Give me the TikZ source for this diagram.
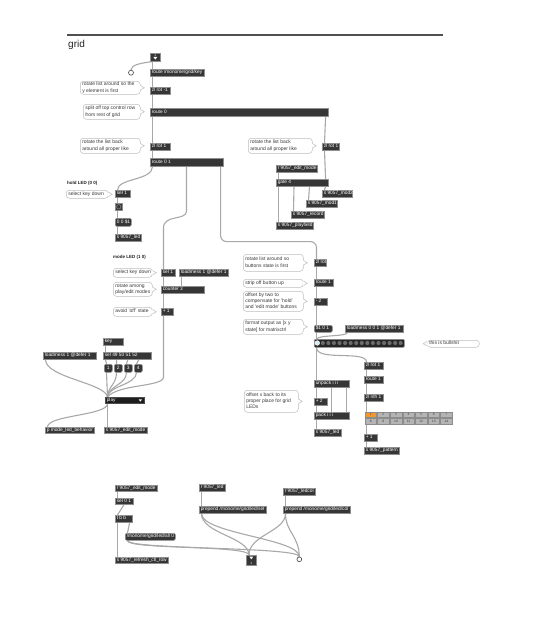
\documentclass[tikz,border=0pt]{standalone}
\usepackage{fontspec}
\setmainfont{Liberation Sans}
\usetikzlibrary{calc}
\pgfdeclarelayer{bg}
\pgfsetlayers{bg,main}
\definecolor{objfill}{HTML}{363636}
\definecolor{objdraw}{HTML}{8E8E8E}
\definecolor{cordc}{HTML}{A8A8A8}
\definecolor{cmtdraw}{HTML}{BDBDBD}
\definecolor{cmttext}{HTML}{3A3A3A}
\definecolor{titlec}{HTML}{222222}
\definecolor{rulec}{HTML}{505050}
\definecolor{tabc}{HTML}{B4B4B4}
\definecolor{tabline}{HTML}{8C8C8C}
\definecolor{tabon}{HTML}{F2962F}
\definecolor{ledoff}{HTML}{6C6C6C}
\definecolor{ledon}{HTML}{D4ECF4}
\definecolor{menuc}{HTML}{1E1E1E}
\tikzset{
  obj/.style={draw=objdraw, fill=objfill, text=white, line width=0.6pt, font=\fontsize{4.8}{5}\selectfont, inner xsep=1.5pt, inner ysep=0pt, anchor=north west},
  msg/.style={obj, rounded corners=1.3pt},
  menu/.style={obj, fill=menuc, draw=black!70},
  cmt/.style={draw=cmtdraw, fill=white, text=cmttext, line width=0.5pt, rounded corners=3pt, font=\fontsize{5}{6.2}\selectfont, inner xsep=2pt, inner ysep=0pt, anchor=north west},
  cmtline/.style={draw=cmtdraw, line width=0.5pt},
  cord/.style={draw=cordc, line width=1.1pt},
  hdr/.style={font=\bfseries\fontsize{4.5}{5}\selectfont, text=titlec, anchor=west, inner sep=0pt},
  port/.style={draw=black!75, fill=white, line width=0.6pt, circle, inner sep=0pt},
  tiny/.style={font=\fontsize{3.2}{3.2}\selectfont, text=white, inner sep=0pt},
}
% object box: [style]{name}{x1}{y1}{x2}{y2}{text}
\newcommand\mx[7][obj]{%
  \pgfmathsetmacro\mxw{#5-#3}\pgfmathsetmacro\mxh{#6-#4}\pgfmathsetmacro\mxtw{#5-#3-3}%
  \node[#1, minimum width=\mxw pt, minimum height=\mxh pt] (#2) at (#3,#4) {\makebox[\mxtw pt][l]{\strut #7}};}
\newcommand\mxc[7][msg]{%
  \pgfmathsetmacro\mxw{#5-#3}\pgfmathsetmacro\mxh{#6-#4}\pgfmathsetmacro\mxtw{#5-#3-3}%
  \node[#1, minimum width=\mxw pt, minimum height=\mxh pt] (#2) at (#3,#4) {\makebox[\mxtw pt][c]{\strut #7}};}
% comment bubble: [side]{name}{x1}{y1}{x2}{y2}{text}
\newcommand\cm[7][r]{%
  \pgfmathsetmacro\mxw{#5-#3}\pgfmathsetmacro\mxh{#6-#4}\pgfmathsetmacro\mxtw{#5-#3-4}%
  \node[cmt, minimum width=\mxw pt, minimum height=\mxh pt] (#2) at (#3,#4) {\makebox[\mxtw pt][l]{\begin{tabular}{@{}l@{}}#7\end{tabular}}};%
  \ifx r#1%
    \fill[white] ([xshift=-0.6pt,yshift=2.2pt]#2.east) -- ([xshift=3.8pt]#2.east) -- ([xshift=-0.6pt,yshift=-2.2pt]#2.east) -- cycle;
    \draw[cmtline] ([yshift=2.2pt]#2.east) -- ([xshift=3.8pt]#2.east) -- ([yshift=-2.2pt]#2.east);
  \else
    \fill[white] ([xshift=0.6pt,yshift=2.2pt]#2.west) -- ([xshift=-3.8pt]#2.west) -- ([xshift=0.6pt,yshift=-2.2pt]#2.west) -- cycle;
    \draw[cmtline] ([yshift=2.2pt]#2.west) -- ([xshift=-3.8pt]#2.west) -- ([yshift=-2.2pt]#2.west);
  \fi}
\begin{document}
\begin{tikzpicture}[x=1pt,y=-1pt]
\useasboundingbox (0,0) rectangle (540,625);
\draw[rulec, line width=1.5pt] (67,35) -- (443,35);
\node[font=\fontsize{10}{12}\selectfont, text=titlec, anchor=base west, inner sep=0pt] (title) at (68,47.5) {grid};

% ---------- top chain
\mx{inl}{150}{53}{160}{61}{}
\node[tiny] (inlnum) at ([yshift=-2pt]inl.north) {1};
\fill[white] ([xshift=-2pt,yshift=-3.8pt]inl.north) -- ([xshift=2pt,yshift=-3.8pt]inl.north) -- ([yshift=-6.6pt]inl.north) -- cycle;
\node[port, minimum size=5pt] (c1) at (131,72.7) {};
\mx{rk}{150}{69}{204}{76}{route /monome/grid/key}
\mx{zra}{150}{87}{170}{94}{zl rot -1}
\mx{rz}{150}{108}{328}{116}{route 0}
\mx{zrb}{150}{143}{170}{150}{zl rot 1}
\mx{rzo}{150}{158}{223}{166}{route 0 1}
\cm{cmA}{80}{81}{140}{94}{rotate list around so the\\y element is first}
\cm{cmB}{83}{104}{140}{119}{split off top control row\\from rest of grid}
\cm{cmC}{80}{138}{140}{153}{rotate the list back\\around all proper like}
\cm{cmD}{248}{138}{312}{153}{rotate the list back\\around all proper like}
\mx{zrc}{322}{143}{339}{150}{zl rot 1}
\mx{redit}{276}{165}{317}{172}{r 9057\_edit\_mode}
\mx{gate}{276}{179}{328}{186}{gate 4}
\mx{smod2}{322}{190}{352}{197}{s 9057\_mod2}
\mx{smod1}{306}{200}{337}{207}{s 9057\_mod1}
\mx{srec}{291}{211}{324}{218}{s 9057\_record}
\mx{spf}{276}{222}{313}{229}{s 9057\_playfield}

% ---------- hold LED
\node[hdr] (hhold) at (67,183) {hold LED (0 0)};
\cm{cmE}{66}{190}{108}{198}{select key down}
\mx{hsel}{115}{190}{130}{197}{sel 1}
\mx{bang}{115}{203}{122}{210}{}
\draw[objdraw, line width=0.5pt] (bang.center) circle (2.2);
\mx[msg]{m00}{115}{218}{131}{226}{0 0 \$1}
\mx{sled}{115}{234}{141}{241}{s 9057\_led}

% ---------- mode LED
\node[hdr] (hmode) at (113,257) {mode LED (1 0)};
\cm{cmF}{113}{268}{152}{277}{select key down}
\mx{msel}{161}{269}{175}{276}{sel 1}
\mx{lm1}{179}{269}{228}{276}{loadmess 1 @defer 1}
\cm{cmG}{113}{282}{152}{296}{rotate among\\play/edit modes}
\mx{cnt}{161}{286}{204}{293}{counter 3}
\cm{cmH}{113}{307}{152}{316}{avoid 'off' state}
\mx{pone}{161}{308}{173}{315}{+ 1}
\mx{key}{103}{338}{123}{345}{key}
\mx{s49}{103}{352}{151}{359}{sel 49 50 51 52}
\mx{lmL}{43}{352}{96}{359}{loadmess 1 @defer 1}
\mxc{mA}{104}{364}{112}{372}{1}
\mxc{mB}{114}{364}{122}{372}{2}
\mxc{mC}{124}{364}{132}{372}{3}
\mxc{mD}{134}{364}{142}{372}{4}
\mx[menu]{um}{105}{397}{144}{403}{play}
\fill[white] ([xshift=-6pt,yshift=1pt]um.east) -- ([xshift=-2.5pt,yshift=1pt]um.east) -- ([xshift=-4.25pt,yshift=-1.2pt]um.east) -- cycle;
\mx{pmode}{45}{427}{94}{433}{p mode\_led\_behavior}
\mx{sem}{104}{427}{147}{433}{s 9057\_edit\_mode}

% ---------- right column
\cm{cmI}{243}{254}{303}{271}{rotate list around so\\buttons state is first}
\mx{zrm}{314}{259}{326}{266}{zl rot -1}
\cm{cmJ}{243}{279}{303}{287}{strip off button up}
\mx{rt1}{314}{279}{333}{286}{route 1}
\cm{cmK}{243}{291}{303}{311}{offset by two to\\compensate for 'hold'\\and 'edit mode' buttons}
\mx{mtwo}{314}{298}{327}{305}{- 2}
\cm{cmL}{243}{319}{303}{334}{format output as [x y\\state] for matrixctrl}
\mx[msg]{s101}{314}{325}{332}{332}{\$1 0 1}
\mx{lm001}{345}{325}{403}{332}{loadmess 0 0 1 @defer 1}
\node[obj, rounded corners=1pt, fill=black!85, minimum width=90pt, minimum height=8pt] (mx) at (314,339) {};
\foreach \i in {1,...,15} \fill[ledoff] (317.3+\i*5.56,343) circle (2.05);
\filldraw[fill=ledon, draw=white, line width=0.3pt] (317.3,343) circle (2.4);
\cm[l]{cmM}{427}{340}{479}{347}{this is bullshit}
\mx{zr4}{364}{362}{383}{369}{zl rot 1}
\mx{rt2}{364}{376}{383}{383}{route 1}
\mx{unp}{314}{380}{349}{387}{unpack i i i}
\cm{cmN}{244}{390}{298}{412}{offset x back to its\\proper place for grid\\LEDs}
\mx{ptwo}{314}{398}{327}{405}{+ 2}
\mx{znth}{364}{394}{383}{401}{zl nth 1}
\node[inner sep=0pt, minimum width=89pt, minimum height=12pt, anchor=north west] (tab) at (364,412) {};
\foreach \r in {0,1}{\foreach \i in {0,...,6}{%
  \pgfmathtruncatemacro\lab{\i+1+7*\r}%
  \pgfmathsetmacro\cx{365+\i*12.6}\pgfmathsetmacro\cy{412+\r*6.5}%
  \ifnum\lab=1 \def\cc{tabon}\else\def\cc{tabc}\fi
  \filldraw[fill=\cc, draw=tabline, line width=0.4pt] (\cx,\cy) rectangle ++(11.6,5.4);
  \node[font=\fontsize{3.3}{3.3}\selectfont, text=black!75, inner sep=0pt] at (\cx+5.8,\cy+2.7) {\lab};
}}
\mx{pack}{314}{412}{349}{419}{pack i i i}
\mx{sled2}{314}{429}{341}{436}{s 9057\_led}
\mx{pone2}{364}{434}{377}{441}{+ 1}
\mx{spat}{364}{447}{399}{454}{s 9057\_pattern}

% ---------- bottom
\mx{rem}{115}{485}{157}{491}{r 9057\_edit\_mode}
\mx{sel01}{115}{498}{133}{504}{sel 0 1}
\mx{tbb}{115}{515}{132}{522}{t b b}
\mx[msg]{mall}{125}{533}{175}{540}{/monome/grid/led/all 0}
\mx{sref}{115}{557}{168}{563}{s 9057\_refresh\_ctl\_row}
\mx{rled}{199}{484}{225}{491}{r 9057\_led}
\mx{pset}{199}{506}{266}{513}{prepend /monome/grid/led/set}
\mx{rcol}{283}{488}{315}{495}{r 9057\_ledcol}
\mx{pcol}{283}{506}{350}{513}{prepend /monome/grid/led/col}
\mx{outb}{246}{555}{256}{565}{}
\fill[white] ([xshift=-2pt,yshift=-1.5pt]outb.north) -- ([xshift=2pt,yshift=-1.5pt]outb.north) -- ([yshift=-4.3pt]outb.north) -- cycle;
\node[tiny] (outnum) at ([yshift=2.4pt]outb.south) {1};
\node[port, minimum size=4.8pt] (c2) at (299.3,559.3) {};

% ---------- patch cords
\begin{pgfonlayer}{bg}
\draw[cord] ([xshift=2.5pt]inl.south west) -- ([xshift=2.5pt]rk.north west);
\draw[cord] ([xshift=2.5pt]inl.south west) .. controls +(-12,1.5) and +(0,-5) .. (c1.north);
\draw[cord] ([xshift=2.5pt]rk.south west) -- ([xshift=2.5pt]zra.north west);
\draw[cord] ([xshift=2.5pt]zra.south west) -- ([xshift=2.5pt]rz.north west);
\draw[cord] ([xshift=2.5pt]rz.south west) -- ([xshift=2.5pt]zrb.north west);
\draw[cord] ([xshift=2.5pt]zrb.south west) -- ([xshift=2.5pt]rzo.north west);
\draw[cord] ([xshift=-3pt]rz.south east) -- ([xshift=2.5pt]zrc.north west);
\draw[cord] ([xshift=2.5pt]zrc.south west) -- ([xshift=-3pt]gate.north east);
\draw[cord] ([xshift=2.5pt]redit.south west) -- ([xshift=2.5pt]gate.north west);
\draw[cord] ([xshift=2.5pt]gate.south west) -- ([xshift=2.5pt]spf.north west);
\draw[cord] ([xshift=18pt]gate.south west) -- ([xshift=2.5pt]srec.north west);
\draw[cord] ([xshift=33.5pt]gate.south west) -- ([xshift=2.5pt]smod1.north west);
\draw[cord] ([xshift=-3pt]gate.south east) -- ([xshift=2.5pt]smod2.north west);
\draw[cord] ([xshift=2.5pt]rzo.south west) .. controls +(0,14) and +(0,-12) .. ([xshift=2.5pt]hsel.north west);
\draw[cord] ([xshift=36.5pt]rzo.south west) -- (186.5,211) .. controls (186.5,221) and (163.5,214) .. (163.5,228) -- ([xshift=2.5pt]msel.north west);
\draw[cord, rounded corners=6pt] ([xshift=-3pt]rzo.south east) -- ++(0,75) -| ([xshift=2.5pt]zrm.north west);
% hold
\draw[cord] ([xshift=2.5pt]hsel.south west) -- ([xshift=2.5pt]bang.north west);
\draw[cord] ([xshift=2.5pt]bang.south west) -- ([xshift=2.5pt]m00.north west);
\draw[cord] ([xshift=2.5pt]m00.south west) -- ([xshift=2.5pt]sled.north west);
% mode
\draw[cord] ([xshift=2.5pt]msel.south west) -- ([xshift=2.5pt]cnt.north west);
\draw[cord] ([xshift=2.5pt]lm1.south west) -- ([xshift=20.5pt]cnt.north west);
\draw[cord] ([xshift=2.5pt]cnt.south west) -- ([xshift=2.5pt]pone.north west);
\draw[cord] ([xshift=2.5pt]pone.south west) -- (163.5,377) .. controls (163.5,387) and (118,384) .. ([xshift=2.5pt]um.north west);
\draw[cord] ([xshift=2.5pt]key.south west) -- ([xshift=2.5pt]s49.north west);
\draw[cord] ([xshift=2.5pt]s49.south west) -- ([xshift=2.5pt]mA.north west);
\draw[cord] ([xshift=13.6pt]s49.south west) -- ([xshift=2.5pt]mB.north west);
\draw[cord] ([xshift=24.8pt]s49.south west) -- ([xshift=2.5pt]mC.north west);
\draw[cord] ([xshift=35.9pt]s49.south west) -- ([xshift=2.5pt]mD.north west);
\draw[cord] ([xshift=2.5pt]mA.south west) -- ([xshift=2.5pt]um.north west);
\draw[cord] ([xshift=2.5pt]mB.south west) .. controls +(0,12) and +(0.5,-11) .. ([xshift=2.5pt]um.north west);
\draw[cord] ([xshift=2.5pt]mC.south west) .. controls +(0,12) and +(0.5,-11) .. ([xshift=2.5pt]um.north west);
\draw[cord] ([xshift=2.5pt]mD.south west) .. controls +(0,12) and +(0.5,-11) .. ([xshift=2.5pt]um.north west);
\draw[cord] ([xshift=2.5pt]lmL.south west) .. controls +(0,18) and +(-2,-14) .. ([xshift=2.5pt]um.north west);
\draw[cord] ([xshift=2.5pt]um.south west) -- ([xshift=3.5pt]sem.north west);
\draw[cord] ([xshift=2.5pt]um.south west) .. controls +(0,12) and +(0,-12) .. ([xshift=2.5pt]pmode.north west);
% right column
\draw[cord] ([xshift=2.5pt]zrm.south west) -- ([xshift=2.5pt]rt1.north west);
\draw[cord] ([xshift=2.5pt]rt1.south west) -- ([xshift=2.5pt]mtwo.north west);
\draw[cord] ([xshift=2.5pt]mtwo.south west) -- ([xshift=2.5pt]s101.north west);
\draw[cord] ([xshift=2.5pt]s101.south west) -- ([xshift=2.5pt]mx.north west);
\draw[cord] ([xshift=2.5pt]lm001.south west) .. controls +(0,4) and +(0,-4) .. ([xshift=3pt]mx.north west);
\draw[cord] ([xshift=2.5pt]mx.south west) -- ([xshift=2.5pt]unp.north west);
\draw[cord] ([xshift=2.5pt]mx.south west) .. controls +(0,14) and +(0,-12) .. ([xshift=2.5pt]zr4.north west);
\draw[cord] ([xshift=2.5pt]zr4.south west) -- ([xshift=2.5pt]rt2.north west);
\draw[cord] ([xshift=2.5pt]rt2.south west) -- ([xshift=2.5pt]znth.north west);
\draw[cord] ([xshift=2.5pt]znth.south west) -- ([xshift=2.5pt]tab.north west);
\draw[cord] ([xshift=2.5pt]tab.south west) -- ([xshift=2.5pt]pone2.north west);
\draw[cord] ([xshift=2.5pt]pone2.south west) -- ([xshift=2.5pt]spat.north west);
\draw[cord] ([xshift=2.5pt]unp.south west) -- ([xshift=2.5pt]ptwo.north west);
\draw[cord] ([xshift=17.25pt]unp.south west) -- ([xshift=17.25pt]pack.north west);
\draw[cord] ([xshift=-3pt]unp.south east) -- ([xshift=-3pt]pack.north east);
\draw[cord] ([xshift=2.5pt]ptwo.south west) -- ([xshift=2.5pt]pack.north west);
\draw[cord] ([xshift=2.5pt]pack.south west) -- ([xshift=2.5pt]sled2.north west);
% bottom
\draw[cord] ([xshift=2.5pt]rem.south west) -- ([xshift=2.5pt]sel01.north west);
\draw[cord] ([xshift=9pt]sel01.south west) -- ([xshift=2.5pt]tbb.north west);
\draw[cord] ([xshift=2.5pt]tbb.south west) -- ([xshift=2.5pt]sref.north west);
\draw[cord] ([xshift=-3pt]tbb.south east) -- ([xshift=2.5pt]mall.north west);
\draw[cord] ([xshift=2.5pt]mall.south west) .. controls +(0,9) and +(0,-10) .. ([xshift=3pt]outb.north west);
\draw[cord] ([xshift=2.5pt]mall.south west) .. controls +(0,9) and +(0,-10) .. (c2.north);
\draw[cord] ([xshift=2.5pt]rled.south west) -- ([xshift=2.5pt]pset.north west);
\draw[cord] ([xshift=2.5pt]pset.south west) .. controls +(0,20) and +(0,-18) .. ([xshift=3pt]outb.north west);
\draw[cord] ([xshift=2.5pt]pset.south west) .. controls +(0,20) and +(0,-18) .. (c2.north);
\draw[cord] ([xshift=2.5pt]rcol.south west) -- ([xshift=2.5pt]pcol.north west);
\draw[cord] ([xshift=2.5pt]pcol.south west) .. controls +(0,18) and +(0,-20) .. ([xshift=3pt]outb.north west);
\draw[cord] ([xshift=2.5pt]pcol.south west) .. controls +(0,18) and +(0,-20) .. (c2.north);
\end{pgfonlayer}
\end{tikzpicture}
\end{document}
